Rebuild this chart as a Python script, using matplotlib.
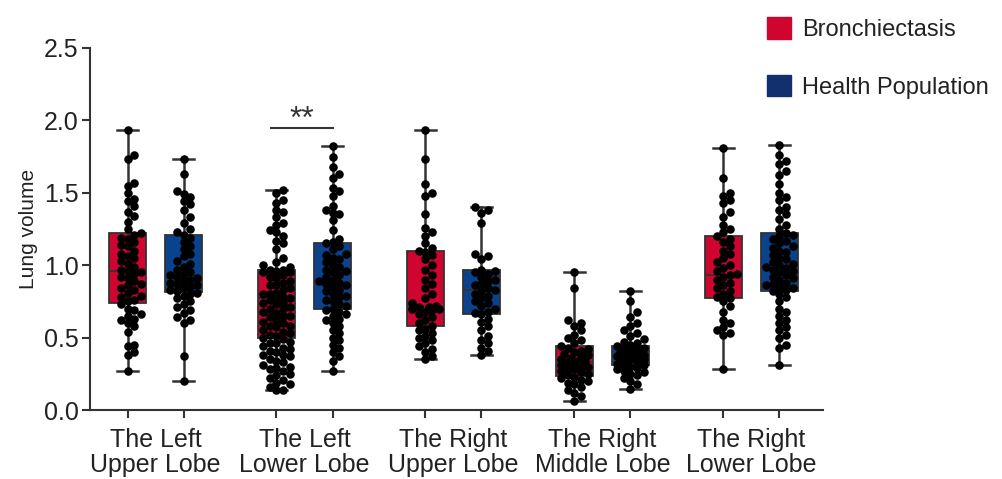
import numpy as np
import matplotlib.pyplot as plt
from matplotlib.patches import Patch

# lung volume per lobe
lobes = ["The Left\nUpper Lobe", "The Left\nLower Lobe", "The Right\nUpper Lobe",
         "The Right\nMiddle Lobe", "The Right\nLower Lobe"]
groups = ["Bronchiectasis", "Health Population"]

lu_bron = [1.93, 1.76, 1.73, 1.57, 1.55, 1.50, 1.46, 1.44, 1.41, 1.37, 1.34, 1.30, 1.25, 1.22,
           1.21, 1.19, 1.18, 1.16, 1.14, 1.13, 1.10, 1.08, 1.06, 1.05, 1.03, 1.01, 0.99, 0.97,
           0.96, 0.95, 0.94, 0.92, 0.91, 0.89, 0.87, 0.86, 0.84, 0.83, 0.81, 0.79, 0.78, 0.76,
           0.75, 0.73, 0.70, 0.69, 0.66, 0.65, 0.63, 0.62, 0.60, 0.58, 0.54, 0.45, 0.44, 0.40,
           0.38, 0.27]
lu_health = [1.73, 1.63, 1.51, 1.49, 1.47, 1.44, 1.42, 1.38, 1.33, 1.29, 1.25, 1.23, 1.21, 1.19,
             1.16, 1.13, 1.11, 1.08, 1.06, 1.03, 1.01, 0.99, 0.97, 0.95, 0.94, 0.93, 0.92, 0.91,
             0.90, 0.89, 0.88, 0.87, 0.86, 0.85, 0.84, 0.83, 0.82, 0.81, 0.80, 0.79, 0.77, 0.75,
             0.73, 0.71, 0.69, 0.67, 0.64, 0.62, 0.60, 0.37, 0.20]
ll_bron = [1.52, 1.50, 1.45, 1.43, 1.38, 1.37, 1.33, 1.29, 1.28, 1.24, 1.23, 1.20, 1.17, 1.15,
           1.11, 1.05, 1.02, 1.00, 0.99, 0.97, 0.97, 0.96, 0.95, 0.95, 0.93, 0.92, 0.91, 0.89,
           0.88, 0.86, 0.86, 0.84, 0.83, 0.81, 0.80, 0.80, 0.78, 0.77, 0.77, 0.76, 0.74, 0.74,
           0.73, 0.71, 0.70, 0.70, 0.68, 0.67, 0.65, 0.65, 0.64, 0.62, 0.61, 0.60, 0.58, 0.58,
           0.57, 0.55, 0.54, 0.53, 0.52, 0.51, 0.50, 0.49, 0.47, 0.46, 0.46, 0.44, 0.43, 0.42,
           0.41, 0.40, 0.38, 0.38, 0.37, 0.35, 0.34, 0.33, 0.31, 0.30, 0.29, 0.28, 0.27, 0.25,
           0.24, 0.22, 0.21, 0.19, 0.18, 0.16, 0.14, 0.14]
ll_health = [1.82, 1.75, 1.68, 1.63, 1.60, 1.53, 1.51, 1.48, 1.41, 1.38, 1.36, 1.35, 1.31, 1.24,
             1.18, 1.16, 1.15, 1.13, 1.11, 1.08, 1.07, 1.05, 1.04, 1.02, 1.00, 0.99, 0.97, 0.96,
             0.95, 0.93, 0.92, 0.90, 0.89, 0.88, 0.87, 0.86, 0.85, 0.83, 0.82, 0.80, 0.79, 0.78,
             0.76, 0.75, 0.73, 0.72, 0.70, 0.69, 0.68, 0.66, 0.65, 0.63, 0.62, 0.60, 0.58, 0.55,
             0.53, 0.50, 0.48, 0.45, 0.43, 0.40, 0.37, 0.34, 0.27]
ru_bron = [1.93, 1.73, 1.56, 1.50, 1.48, 1.35, 1.26, 1.23, 1.20, 1.15, 1.12, 1.10, 1.09, 1.07,
           1.04, 1.00, 0.97, 0.93, 0.90, 0.87, 0.84, 0.80, 0.77, 0.74, 0.72, 0.71, 0.71, 0.70,
           0.70, 0.69, 0.68, 0.66, 0.64, 0.62, 0.60, 0.58, 0.56, 0.55, 0.53, 0.51, 0.50, 0.48,
           0.46, 0.44, 0.42, 0.40, 0.37, 0.35]
ru_health = [1.40, 1.38, 1.36, 1.29, 1.08, 1.06, 1.04, 0.97, 0.96, 0.95, 0.94, 0.92, 0.90, 0.89,
             0.87, 0.86, 0.84, 0.83, 0.82, 0.80, 0.79, 0.77, 0.75, 0.74, 0.72, 0.70, 0.68, 0.67,
             0.66, 0.63, 0.61, 0.58, 0.55, 0.51, 0.48, 0.46, 0.43, 0.41, 0.38]
rm_bron = [0.95, 0.84, 0.62, 0.60, 0.58, 0.55, 0.52, 0.50, 0.48, 0.46, 0.44, 0.43, 0.42, 0.41,
           0.40, 0.39, 0.38, 0.37, 0.36, 0.35, 0.34, 0.34, 0.33, 0.32, 0.31, 0.30, 0.30, 0.29,
           0.28, 0.27, 0.26, 0.25, 0.24, 0.23, 0.22, 0.21, 0.20, 0.19, 0.18, 0.16, 0.14, 0.12,
           0.10, 0.06]
rm_health = [0.82, 0.75, 0.68, 0.64, 0.60, 0.58, 0.55, 0.53, 0.51, 0.49, 0.47, 0.46, 0.45, 0.44,
             0.43, 0.42, 0.42, 0.41, 0.40, 0.40, 0.39, 0.38, 0.38, 0.37, 0.37, 0.36, 0.35, 0.35,
             0.34, 0.33, 0.33, 0.32, 0.31, 0.31, 0.30, 0.29, 0.28, 0.27, 0.26, 0.25, 0.24, 0.22,
             0.20, 0.18, 0.145]
rl_bron = [1.81, 1.60, 1.50, 1.48, 1.45, 1.43, 1.37, 1.33, 1.28, 1.25, 1.23, 1.20, 1.18, 1.16,
           1.13, 1.10, 1.08, 1.05, 1.02, 1.00, 0.98, 0.96, 0.94, 0.93, 0.92, 0.90, 0.88, 0.86,
           0.84, 0.82, 0.80, 0.78, 0.77, 0.75, 0.72, 0.68, 0.62, 0.60, 0.57, 0.55, 0.53, 0.52,
           0.28]
rl_health = [1.83, 1.76, 1.72, 1.70, 1.65, 1.62, 1.56, 1.50, 1.47, 1.45, 1.40, 1.38, 1.35, 1.32,
             1.28, 1.25, 1.22, 1.21, 1.20, 1.18, 1.17, 1.15, 1.13, 1.12, 1.10, 1.09, 1.07, 1.05,
             1.04, 1.02, 1.01, 1.00, 0.99, 0.98, 0.97, 0.96, 0.95, 0.93, 0.92, 0.91, 0.90, 0.88,
             0.87, 0.86, 0.85, 0.84, 0.83, 0.82, 0.80, 0.78, 0.75, 0.70, 0.68, 0.65, 0.62, 0.60,
             0.57, 0.55, 0.52, 0.50, 0.45, 0.43, 0.31]

# quartiles as drawn on the boxes (bron, health for each lobe)
q1 = [0.74, 0.815, 0.50, 0.70, 0.58, 0.66, 0.235, 0.31, 0.77, 0.82]
med = [0.96, 0.925, 0.77, 0.88, 0.71, 0.83, 0.33, 0.37, 0.93, 0.98]
q3 = [1.22, 1.21, 0.97, 1.15, 1.10, 0.97, 0.44, 0.44, 1.20, 1.225]

data = [lu_bron, lu_health, ll_bron, ll_health, ru_bron, ru_health,
        rm_bron, rm_health, rl_bron, rl_health]

red = '#d0052f'
blue = '#0b428e'
dark = '#333333'


def swarm(vals, center, d=0.046, ratio=0.97, maxw=0.11):
    # simple beeswarm: put each point as close to the centre as it fits
    vals = sorted(vals)
    placed = []
    xs = []
    steps = np.arange(0, maxw + 1e-9, d / 2)
    cands = [0.0]
    for s in steps[1:]:
        cands += [s, -s]
    for v in vals:
        best, bestd = None, -1
        for c in cands:
            md = min([np.hypot(c - px, (v - py) * ratio) for px, py in placed] or [9])
            if md >= d:
                best = c
                break
            if md > bestd:
                bestd, best = md, c
        placed.append((best, v))
        xs.append(center + best)
    return np.array(xs), np.array(vals)


fig = plt.figure(figsize=(10.03, 4.79), dpi=100)
ax = fig.add_axes([0.0897, 0.144, 0.7308, 0.756])
plt.rcParams['font.family'] = 'Liberation Sans'

off = 0.188
pos = []
for i in range(len(lobes)):
    pos += [i - off, i + off]

stats = []
for k, vals in enumerate(data):
    stats.append(dict(q1=q1[k], med=med[k], q3=q3[k], whislo=min(vals), whishi=max(vals),
                      fliers=[]))

bp = ax.bxp(stats, positions=pos, widths=0.245, patch_artist=True, capwidths=0.14,
            boxprops=dict(linewidth=1.3, edgecolor=dark),
            medianprops=dict(color=dark, linewidth=1.3),
            whiskerprops=dict(color=dark, linewidth=1.8),
            capprops=dict(color=dark, linewidth=1.8), zorder=1)
for k, b in enumerate(bp['boxes']):
    b.set_facecolor(red if k % 2 == 0 else blue)

for k, vals in enumerate(data):
    x, y = swarm(vals, pos[k])
    ax.scatter(x, y, s=38, color='black', zorder=3, linewidths=0)

# significance bar over the left lower lobe
ax.plot([pos[2] - 0.04, pos[3]], [1.95, 1.95], color=dark, lw=1.5)
ax.text((pos[2] + pos[3]) / 2 - 0.02, 2.0, "**", ha='center', va='center', fontsize=23,
        color=dark, family='Liberation Sans')

ax.set_xlim(-0.44, 4.48)
ax.set_ylim(0, 2.5)
ax.set_yticks([0, 0.5, 1.0, 1.5, 2.0, 2.5])
ax.set_yticklabels(["0.0", "0.5", "1.0", "1.5", "2.0", "2.5"], fontsize=18,
                   family='Liberation Sans', color='#222222')
ax.set_xticks(range(len(lobes)))
ax.set_xticklabels(lobes, fontsize=18, family='Liberation Sans', color='#222222',
                   linespacing=1.05)
ax.tick_params(axis='x', which='major', length=0, pad=13)
ax.set_xticks(pos, minor=True)
ax.tick_params(axis='x', which='minor', length=6, width=1.5, color=dark)
ax.tick_params(axis='y', length=6, width=1.5, color=dark, pad=2)
ax.set_ylabel("Lung volume", fontsize=15, family='Liberation Sans', color='#222222', labelpad=4)
for s in ['top', 'right']:
    ax.spines[s].set_visible(False)
for s in ['left', 'bottom']:
    ax.spines[s].set_linewidth(1.5)
    ax.spines[s].set_color(dark)

handles = [Patch(facecolor=red, edgecolor=red), Patch(facecolor='#10306e', edgecolor='#10306e')]
fig.legend(handles, groups, loc='upper left', bbox_to_anchor=(0.744, 1.008), frameon=False,
           prop=dict(family='Liberation Sans', size=17), handlelength=1.0, handleheight=1.0,
           handletextpad=0.45, labelspacing=1.45, labelcolor='#222222')

fig.savefig('out.png', dpi=100)
